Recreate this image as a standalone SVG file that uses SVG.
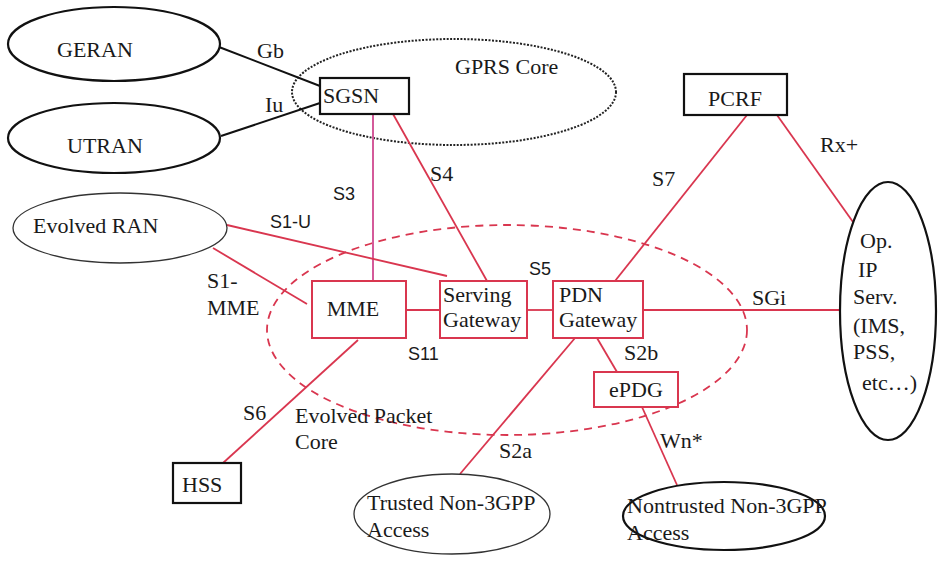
<svg xmlns="http://www.w3.org/2000/svg" width="938" height="561" viewBox="0 0 938 561">
  <style>
    .t { font-family: "Liberation Serif", "Times New Roman", serif; font-size: 22px; fill: #1a1a1a; }
    .s { font-family: "Liberation Sans", Arial, sans-serif; font-size: 18px; fill: #1a1a1a; }
    .blk { fill: #fff; stroke: #111; stroke-width: 2.2; }
    .thin { fill: #fff; stroke: #333; stroke-width: 1.3; }
    .red { fill: #fff; stroke: #d9364f; stroke-width: 2; }
    .lk { fill: none; stroke: #111; stroke-width: 2; }
    .lr { fill: none; stroke: #d9364f; stroke-width: 1.8; }
    .lm { fill: none; stroke: #d45a9a; stroke-width: 2; }
  </style>

  <!-- domain outlines -->
  <g id="gprs-core">
    <ellipse cx="454" cy="92" rx="162" ry="53" fill="none" stroke="#222" stroke-width="2" stroke-dasharray="2 1.5"/>
    <text class="t" x="455" y="74">GPRS Core</text>
  </g>
  <g id="evolved-packet-core">
    <ellipse cx="507" cy="330" rx="240" ry="105" fill="none" stroke="#d9364f" stroke-width="1.8" stroke-dasharray="8 6"/>
    <text class="t" x="295" y="423">Evolved Packet</text>
    <text class="t" x="295" y="449">Core</text>
  </g>

  <!-- connectors -->
  <g id="connectors">
    <line class="lk" x1="219" y1="47" x2="320" y2="86"/>
    <line class="lk" x1="221" y1="136" x2="320" y2="103"/>
    <line class="lm" x1="373" y1="114" x2="373" y2="281"/>
    <line class="lr" x1="393" y1="114" x2="487" y2="281"/>
    <line class="lr" x1="747" y1="115" x2="615" y2="281"/>
    <line class="lr" x1="777" y1="115" x2="853" y2="222"/>
    <line class="lr" x1="227" y1="225" x2="447" y2="276"/>
    <line class="lr" x1="213" y1="248" x2="307" y2="304"/>
    <line class="lr" x1="406" y1="310" x2="440" y2="310"/>
    <line class="lr" x1="527" y1="310" x2="553" y2="310"/>
    <line class="lr" x1="643" y1="310" x2="840" y2="310"/>
    <line class="lr" x1="597" y1="338" x2="617" y2="372"/>
    <line class="lr" x1="575" y1="338" x2="460" y2="474"/>
    <line class="lr" x1="358" y1="340" x2="223" y2="463"/>
    <line class="lr" x1="642" y1="407" x2="677" y2="485"/>

    <text class="t" x="257" y="58">Gb</text>
    <text class="t" x="265" y="112">Iu</text>
    <text class="s" x="333" y="200">S3</text>
    <text class="t" x="430" y="181">S4</text>
    <text class="t" x="652" y="186">S7</text>
    <text class="t" x="820" y="152">Rx+</text>
    <text class="s" x="270" y="228">S1-U</text>
    <text class="t" x="207" y="288">S1-</text>
    <text class="t" x="207" y="315">MME</text>
    <text class="s" x="529" y="275">S5</text>
    <text class="t" x="752" y="305">SGi</text>
    <text class="s" x="408" y="360">S11</text>
    <text class="t" x="624" y="360">S2b</text>
    <text class="t" x="243" y="420">S6</text>
    <text class="t" x="499" y="458">S2a</text>
    <text class="t" x="660" y="448">Wn*</text>
  </g>

  <!-- nodes -->
  <g id="geran">
    <ellipse class="blk" cx="114" cy="44" rx="106" ry="37"/>
    <text class="t" x="57" y="57">GERAN</text>
  </g>
  <g id="utran">
    <ellipse class="blk" cx="114" cy="138" rx="106" ry="35"/>
    <text class="t" x="67" y="153">UTRAN</text>
  </g>
  <g id="sgsn">
    <rect class="blk" x="320" y="78" width="89" height="36"/>
    <text class="t" x="323" y="103">SGSN</text>
  </g>
  <g id="pcrf">
    <rect class="blk" x="684" y="74" width="103" height="41" stroke-width="2.5"/>
    <text class="t" x="735" y="106" text-anchor="middle">PCRF</text>
  </g>
  <g id="evolved-ran">
    <ellipse class="thin" cx="120" cy="228" rx="107" ry="35"/>
    <text class="t" x="33" y="233">Evolved RAN</text>
  </g>
  <g id="op-ip-serv">
    <ellipse class="blk" cx="888" cy="311" rx="48" ry="129" stroke-width="2.5"/>
    <text class="t" x="860" y="248">Op.</text>
    <text class="t" x="858" y="277">IP</text>
    <text class="t" x="853" y="304">Serv.</text>
    <text class="t" x="853" y="333">(IMS,</text>
    <text class="t" x="853" y="359">PSS,</text>
    <text class="t" x="862" y="390">etc…)</text>
  </g>
  <g id="mme">
    <rect class="red" x="312" y="281" width="94" height="57"/>
    <text class="t" x="353" y="316" text-anchor="middle">MME</text>
  </g>
  <g id="serving-gateway">
    <rect class="red" x="440" y="281" width="87" height="57"/>
    <text class="t" x="443" y="302">Serving</text>
    <text class="t" x="443" y="327">Gateway</text>
  </g>
  <g id="pdn-gateway">
    <rect class="red" x="553" y="281" width="90" height="57"/>
    <text class="t" x="559" y="302">PDN</text>
    <text class="t" x="559" y="327">Gateway</text>
  </g>
  <g id="epdg">
    <rect class="red" x="594" y="372" width="84" height="35"/>
    <text class="t" x="636" y="397" text-anchor="middle">ePDG</text>
  </g>
  <g id="hss">
    <rect class="blk" x="173" y="463" width="68" height="40" stroke-width="2.5"/>
    <text class="t" x="182" y="492">HSS</text>
  </g>
  <g id="trusted-access">
    <ellipse class="thin" cx="452" cy="514" rx="98" ry="40" fill="none"/>
    <text class="t" x="367" y="510">Trusted Non-3GPP</text>
    <text class="t" x="367" y="537">Access</text>
  </g>
  <g id="nontrusted-access">
    <ellipse class="blk" cx="724" cy="516" rx="101" ry="34"/>
    <text class="t" x="627" y="513">Nontrusted Non-3GPP</text>
    <text class="t" x="627" y="540">Access</text>
  </g>
</svg>
